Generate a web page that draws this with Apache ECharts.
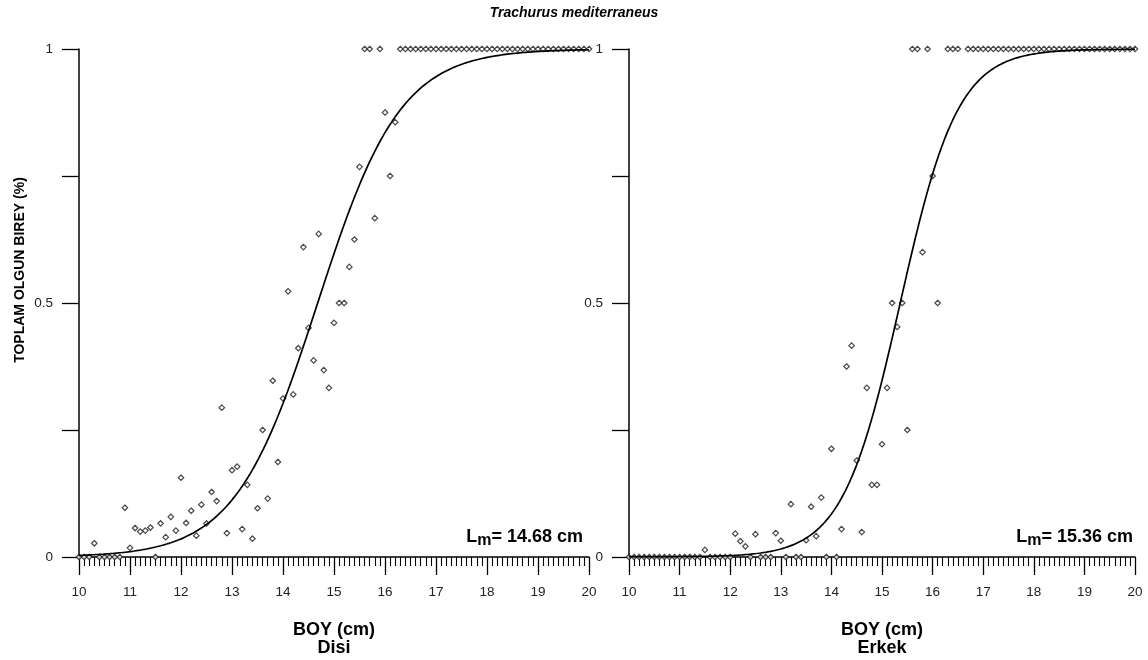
<!DOCTYPE html>
<html>
<head>
<meta charset="utf-8">
<script src="https://cdn.jsdelivr.net/npm/echarts@6/dist/echarts.min.js"></script>
<style>
  html, body { margin: 0; padding: 0; background: #fff; }
  #c { width: 1148px; height: 660px; }
</style>
</head>
<body>
<div id="c"></div>
<script>
// Length classes (cm) and share of mature fish per class, females (Disi)
const boyDisi = [
  10.0, 10.1, 10.2, 10.3, 10.4, 10.5, 10.6, 10.7, 10.8, 10.9,
  11.0, 11.1, 11.2, 11.3, 11.4, 11.5, 11.6, 11.7, 11.8, 11.9,
  12.0, 12.1, 12.2, 12.3, 12.4, 12.5, 12.6, 12.7, 12.8, 12.9,
  13.0, 13.1, 13.2, 13.3, 13.4, 13.5, 13.6, 13.7, 13.8, 13.9,
  14.0, 14.1, 14.2, 14.3, 14.4, 14.5, 14.6, 14.7, 14.8, 14.9,
  15.0, 15.1, 15.2, 15.3, 15.4, 15.5, 15.6, 15.7, 15.8, 15.9,
  16.0, 16.1, 16.2, 16.3, 16.4, 16.5, 16.6, 16.7, 16.8, 16.9,
  17.0, 17.1, 17.2, 17.3, 17.4, 17.5, 17.6, 17.7, 17.8, 17.9,
  18.0, 18.1, 18.2, 18.3, 18.4, 18.5, 18.6, 18.7, 18.8, 18.9,
  19.0, 19.1, 19.2, 19.3, 19.4, 19.5, 19.6, 19.7, 19.8, 19.9, 20.0
];
const oranDisi = [
  0, 0, 0, 0.027, 0, 0, 0, 0, 0, 0.097,
  0.018, 0.057, 0.05, 0.052, 0.058, 0, 0.066, 0.039, 0.079, 0.052,
  0.156, 0.067, 0.091, 0.042, 0.103, 0.066, 0.128, 0.11, 0.294, 0.047,
  0.171, 0.178, 0.055, 0.142, 0.036, 0.096, 0.25, 0.115, 0.347, 0.187,
  0.312, 0.523, 0.32, 0.411, 0.61, 0.451, 0.387, 0.636, 0.368, 0.333,
  0.461, 0.5, 0.5, 0.571, 0.625, 0.768, 1, 1, 0.667, 1,
  0.875, 0.75, 0.856, 1, 1, 1, 1, 1, 1, 1,
  1, 1, 1, 1, 1, 1, 1, 1, 1, 1,
  1, 1, 1, 1, 1, 1, 1, 1, 1, 1,
  1, 1, 1, 1, 1, 1, 1, 1, 1, 1, 1
];

// Length classes (cm) and share of mature fish per class, males (Erkek)
const boyErkek = [
  10.0, 10.1, 10.2, 10.3, 10.4, 10.5, 10.6, 10.7, 10.8, 10.9,
  11.0, 11.1, 11.2, 11.3, 11.4, 11.5, 11.6, 11.7, 11.8, 11.9,
  12.0, 12.1, 12.2, 12.3, 12.4, 12.5, 12.6, 12.7, 12.8, 12.9,
  13.0, 13.1, 13.2, 13.3, 13.4, 13.5, 13.6, 13.7, 13.8, 13.9,
  14.0, 14.1, 14.2, 14.3, 14.4, 14.5, 14.6, 14.7, 14.8, 14.9,
  15.0, 15.1, 15.2, 15.3, 15.4, 15.5, 15.6, 15.7, 15.8, 15.9,
  16.0, 16.1, 16.3, 16.4, 16.5, 16.7, 16.8, 16.9,
  17.0, 17.1, 17.2, 17.3, 17.4, 17.5, 17.6, 17.7, 17.8, 17.9,
  18.0, 18.1, 18.2, 18.3, 18.4, 18.5, 18.6, 18.7, 18.8, 18.9,
  19.0, 19.1, 19.2, 19.3, 19.4, 19.5, 19.6, 19.7, 19.8, 19.9, 20.0
];
const oranErkek = [
  0, 0, 0, 0, 0, 0, 0, 0, 0, 0,
  0, 0, 0, 0, 0, 0.014, 0, 0, 0, 0,
  0, 0.046, 0.031, 0.021, 0, 0.045, 0, 0, 0, 0.047,
  0.032, 0, 0.104, 0, 0, 0.033, 0.099, 0.041, 0.117, 0,
  0.213, 0, 0.055, 0.375, 0.416, 0.19, 0.049, 0.333, 0.142, 0.142,
  0.222, 0.333, 0.5, 0.453, 0.5, 0.25, 1, 1, 0.6, 1,
  0.75, 0.5, 1, 1, 1, 1, 1, 1,
  1, 1, 1, 1, 1, 1, 1, 1, 1, 1,
  1, 1, 1, 1, 1, 1, 1, 1, 1, 1,
  1, 1, 1, 1, 1, 1, 1, 1, 1, 1, 1
];

// Fitted logistic maturity ogives: P = 1 / (1 + exp(-r (L - Lm)))
const lmDisi = 14.68, rDisi = 1.23;
const lmErkek = 15.36, rErkek = 1.75;

const yTickLabels = { 0: '0', 0.5: '0.5', 1: '1' };
const xTickLabels = ['10', '11', '12', '13', '14', '15', '16', '17', '18', '19', '20'];

function pairs(xs, ys) { return xs.map((x, i) => [x, ys[i]]); }
function ogive(lm, r) {
  const pts = [];
  for (let i = 0; i <= 500; i++) {
    const L = 10 + i * 0.02;
    pts.push([L, 1 / (1 + Math.exp(-r * (L - lm)))]);
  }
  return pts;
}

const FONT = 'Liberation Sans, Arial, sans-serif';
const INK = '#000';

function xAxisFor(gridIndex) {
  return {
    type: 'value', gridIndex, min: 10, max: 20, interval: 1,
    axisLine: { show: true, onZero: false, lineStyle: { color: INK, width: 1.5 } },
    axisTick: { show: true, length: 18, lineStyle: { color: INK, width: 1.3 } },
    minorTick: { show: true, splitNumber: 10, length: 9, lineStyle: { color: INK, width: 1.1 } },
    splitLine: { show: false },
    axisLabel: {
      margin: 28, color: '#222', fontFamily: FONT, fontSize: 13.5,
      showMinLabel: true, showMaxLabel: true,
      formatter: v => xTickLabels[Math.round(v - 10)]
    }
  };
}
function yAxisFor(gridIndex) {
  return {
    type: 'value', gridIndex, min: 0, max: 1, interval: 0.25,
    axisLine: { show: true, onZero: false, lineStyle: { color: INK, width: 1.5 } },
    axisTick: { show: true, length: 17, lineStyle: { color: INK, width: 1.3 } },
    splitLine: { show: false },
    axisLabel: {
      margin: 26, color: '#222', fontFamily: FONT, fontSize: 13.5,
      formatter: v => (yTickLabels[v] !== undefined ? yTickLabels[v] : '')
    }
  };
}

const pointStyle = {
  type: 'scatter', symbol: 'diamond', symbolSize: 5.5,
  itemStyle: { color: '#fff', borderColor: '#1a1a1a', borderWidth: 1.2 },
  z: 3, silent: true
};
const curveStyle = {
  type: 'line', showSymbol: false, smooth: false,
  lineStyle: { color: INK, width: 1.7 }, z: 4, silent: true
};

function lmLabel(rightX, lmValue) {
  const rest = '= ' + lmValue.toFixed(2) + ' cm';
  const restW = 91.5, subW = 14.2;
  return [
    { type: 'text', x: rightX, y: 537, style: { text: rest, align: 'right', verticalAlign: 'middle', font: 'bold 18px ' + FONT, fill: INK } },
    { type: 'text', x: rightX - restW, y: 541, style: { text: 'm', align: 'right', verticalAlign: 'middle', font: 'bold 16px ' + FONT, fill: INK } },
    { type: 'text', x: rightX - restW - subW, y: 537, style: { text: 'L', align: 'right', verticalAlign: 'middle', font: 'bold 18px ' + FONT, fill: INK } }
  ];
}

const chart = echarts.init(document.getElementById('c'), null, { renderer: 'canvas' });
chart.setOption({
  backgroundColor: '#fff',
  animation: false,
  grid: [
    { left: 79, top: 49, width: 510, height: 508 },
    { left: 629, top: 49, width: 506, height: 508 }
  ],
  xAxis: [xAxisFor(0), xAxisFor(1)],
  yAxis: [yAxisFor(0), yAxisFor(1)],
  series: [
    Object.assign({}, pointStyle, { xAxisIndex: 0, yAxisIndex: 0, data: pairs(boyDisi, oranDisi) }),
    Object.assign({}, curveStyle, { xAxisIndex: 0, yAxisIndex: 0, data: ogive(lmDisi, rDisi) }),
    Object.assign({}, pointStyle, { xAxisIndex: 1, yAxisIndex: 1, data: pairs(boyErkek, oranErkek) }),
    Object.assign({}, curveStyle, { xAxisIndex: 1, yAxisIndex: 1, data: ogive(lmErkek, rErkek) })
  ],
  graphic: [
    { type: 'text', x: 574, y: 13, style: { text: 'Trachurus mediterraneus', align: 'center', verticalAlign: 'middle', font: 'italic bold 14px ' + FONT, fill: INK } },
    { type: 'text', x: 20, y: 270, rotation: Math.PI / 2, style: { text: 'TOPLAM OLGUN BIREY (%)', align: 'center', verticalAlign: 'middle', font: 'bold 14px ' + FONT, fill: INK } },
    { type: 'text', x: 334, y: 630, style: { text: 'BOY (cm)', align: 'center', verticalAlign: 'middle', font: 'bold 18px ' + FONT, fill: INK } },
    { type: 'text', x: 334, y: 648, style: { text: 'Disi', align: 'center', verticalAlign: 'middle', font: 'bold 18px ' + FONT, fill: INK } },
    { type: 'text', x: 882, y: 630, style: { text: 'BOY (cm)', align: 'center', verticalAlign: 'middle', font: 'bold 18px ' + FONT, fill: INK } },
    { type: 'text', x: 882, y: 648, style: { text: 'Erkek', align: 'center', verticalAlign: 'middle', font: 'bold 18px ' + FONT, fill: INK } }
  ].concat(lmLabel(583, lmDisi), lmLabel(1133, lmErkek))
});
</script>
</body>
</html>
